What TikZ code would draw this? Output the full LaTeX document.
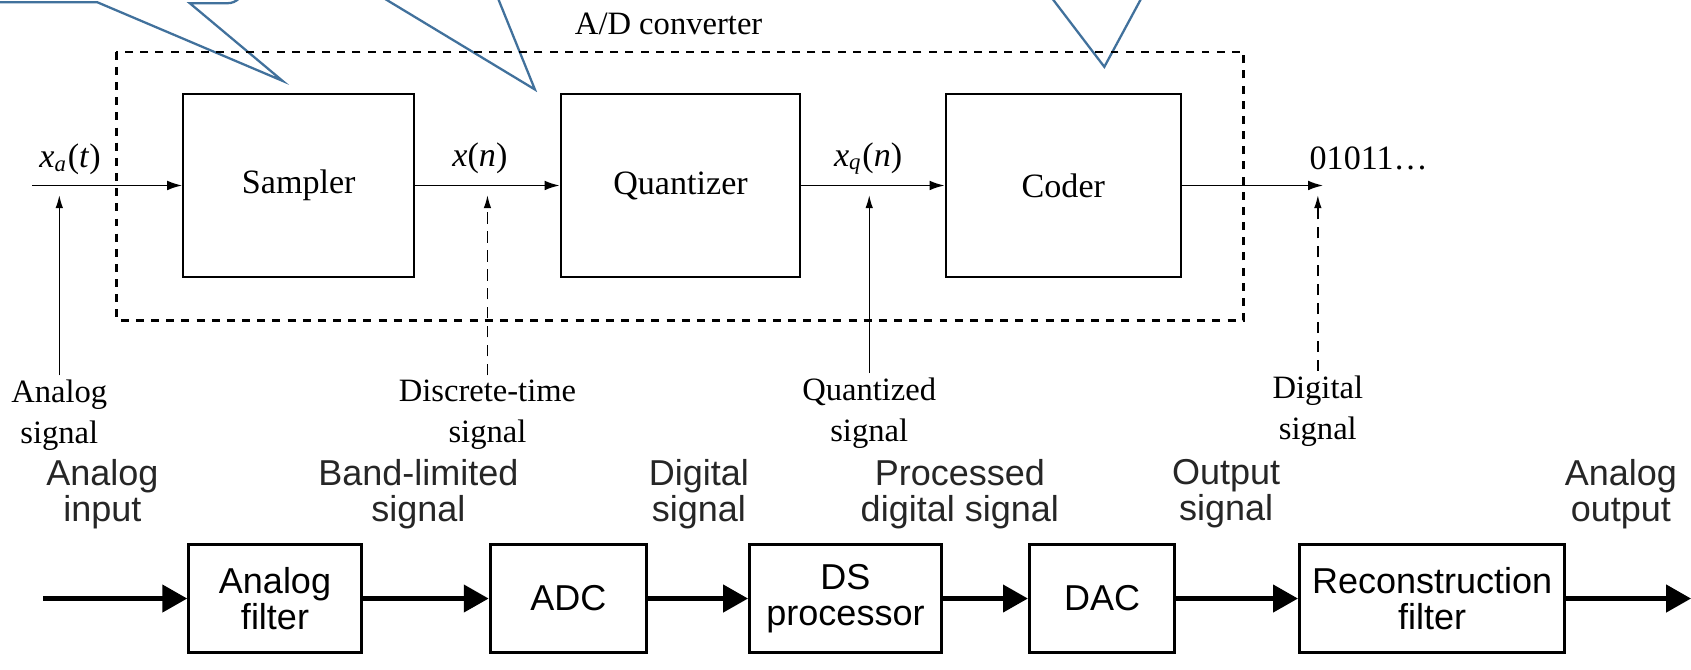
\documentclass[tikz,border=0pt]{standalone}
\usepackage{fontspec}
\setmainfont{Liberation Serif}
\newfontfamily\arialfont{Liberation Sans}
\usetikzlibrary{arrows.meta}
\definecolor{calloutblue}{HTML}{41719C}
\tikzset{
    stage/.style={draw, rectangle, line width=0.55pt, minimum height=16.9mm, font=\fontsize{9}{10.8}\selectfont},
    adbox/.style={draw, dash pattern=on 2.1pt off 1.9pt, line width=0.65pt},
    sig/.style={-{Latex[length=1.4mm,width=0.9mm]}, line width=0.5pt},
    probe/.style={-{Latex[length=1.2mm,width=0.7mm]}, line width=0.35pt},
    sigtag/.style={font=\fontsize{8.6}{10.8}\selectfont, align=center, inner sep=1pt},
    sigval/.style={font=\fontsize{9}{10}\selectfont},
    dspblock/.style={draw, rectangle, line width=0.8pt, minimum height=10mm, align=center, font=\arialfont\fontsize{9.5}{9.4}\selectfont},
    flow/.style={-{Triangle[length=2.3mm,width=2.5mm]}, line width=1.1pt},
    chainlbl/.style={align=center, text=black!85, font=\arialfont\fontsize{9.5}{9.4}\selectfont},
    callout/.style={draw=calloutblue, line width=0.6pt}
}
\newcommand{\sigsub}[2]{\textit{#1}\textsubscript{\textit{#2}}}

\begin{document}
\begin{tikzpicture}[x=0.1mm, y=-0.1mm]
    \clip (0,0) rectangle (1568,621);
    \fill[white] (0,0) rectangle (1568,621);
    % callouts (cut by the frame)
    \draw[callout] (-10,2) -- (90,2) -- (262,75) -- (176,3) [rounded corners=1.5mm] -- (226,3) -- (226,-20);
    \draw[callout] (357,-1) -- (496,83) -- (462,-1);
    \draw[callout] (976,-1) -- (1024,62) -- (1058,-1);
    % A/D converter
    \draw[adbox] (108,48) rectangle (1153,297);
    \node[sigtag] (ADtitle) at (620,22) {A/D converter};
    \node[stage, minimum width=21.4mm] (sampler) at (277,172) {Sampler};
    \node[stage, minimum width=22.2mm] (quant) at (631,172) {Quantizer};
    \node[stage, minimum width=21.8mm] (coder) at (986,172) {Coder};
    \coordinate (xin) at (30,172);
    \coordinate (xout) at (1227,172);
    \node[sigval] (xa) at (65,148) {\sigsub{x}{a}(\textit{t})};
    \node[sigval] (xn) at (445,147) {\textit{x}(\textit{n})};
    \node[sigval] (xq) at (805,147) {\sigsub{x}{q}(\textit{n})};
    \node[sigval, anchor=west] (bits) at (1202,147) {01011\ldots};
    \draw[sig] (xin) -- (sampler.west);
    \draw[sig] (sampler.east) -- (quant.west);
    \draw[sig] (quant.east) -- (coder.west);
    \draw[sig] (coder.east) -- (xout);
    % signal names
    \node[sigtag, anchor=north] (lAnalog) at (55,348) {Analog\\signal};
    \node[sigtag, anchor=north] (lDiscrete) at (452,348) {Discrete-time\\signal};
    \node[sigtag, anchor=north] (lQuant) at (806,346) {Quantized\\signal};
    \node[sigtag, anchor=north] (lDigital) at (1222,344) {Digital\\signal};
    \coordinate (pAnalog) at (55,181);
    \coordinate (pDiscrete) at (452,181);
    \coordinate (pQuant) at (806,181);
    \coordinate (pDigital) at (1222,181);
    \draw[probe] (lAnalog.north) -- (pAnalog);
    \draw[probe, densely dashed] (lDiscrete.north) -- (pDiscrete);
    \draw[probe] (lQuant.north) -- (pQuant);
    \draw[probe, densely dashed] (lDigital.north) -- (pDigital);
    % DSP chain
    \node[dspblock, minimum width=16mm] (AF) at (255,555) {Analog\\filter};
    \node[dspblock, minimum width=14.5mm] (ADC) at (527,555) {ADC};
    \node[dspblock, minimum width=17.8mm] (DSP) at (784,555) {DS\\processor};
    \node[dspblock, minimum width=13.5mm] (DAC) at (1022,555) {DAC};
    \node[dspblock, minimum width=24.6mm] (REC) at (1328,555) {Reconstruction\\filter};
    \coordinate (src) at (40,555);
    \coordinate (sink) at (1568,555);
    \draw[flow] (src) -- (AF);
    \draw[flow] (AF) -- (ADC);
    \draw[flow] (ADC) -- (DSP);
    \draw[flow] (DSP) -- (DAC);
    \draw[flow] (DAC) -- (REC);
    \draw[flow] (REC) -- (sink);
    \node[chainlbl] (cIn) at (95,458) {Analog\\input};
    \node[chainlbl] (cBand) at (388,458) {Band-limited\\signal};
    \node[chainlbl] (cDig) at (648,458) {Digital\\signal};
    \node[chainlbl] (cProc) at (890,458) {Processed\\digital signal};
    \node[chainlbl] (cOut) at (1137,458) {Output\\signal};
    \node[chainlbl] (cAout) at (1503,458) {Analog\\output};
\end{tikzpicture}
\end{document}
